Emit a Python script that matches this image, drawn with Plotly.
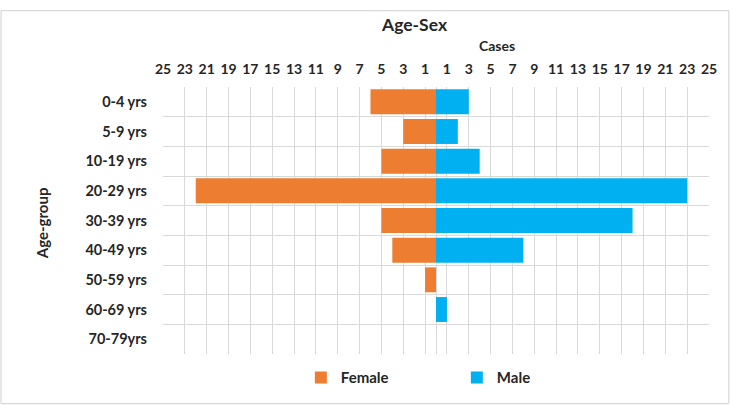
import plotly.graph_objects as go

age_groups = ["0-4 yrs", "5-9 yrs", "10-19 yrs", "20-29 yrs", "30-39 yrs",
              "40-49 yrs", "50-59 yrs", "60-69 yrs", "70-79yrs"]
female = [6, 3, 5, 22, 5, 4, 1, 0, 0]
male = [3, 2, 4, 23, 18, 8, 0, 1, 0]
tick_values = [-25, -23, -21, -19, -17, -15, -13, -11, -9, -7, -5, -3, -1,
               1, 3, 5, 7, 9, 11, 13, 15, 17, 19, 21, 23, 25]
tick_labels = [str(abs(v)) for v in tick_values]

FONT = "Lato"
W, H = 733, 406
L, R, T, B = 163.3, 708.7, 87.3, 354.3
pw, ph = R - L, B - T

def px(x):
    return (x - L) / pw

def py(y):
    return (B - y) / ph

ypos = list(range(len(age_groups)))

fig = go.Figure()
fig.add_trace(go.Bar(y=ypos, x=[-v for v in female], orientation="h",
                     name="Female", marker=dict(color="#ED7D31", line=dict(width=0)),
                     customdata=female, hovertemplate="%{customdata}<extra>Female</extra>"))
fig.add_trace(go.Bar(y=ypos, x=male, orientation="h",
                     name="Male", marker=dict(color="#00B0F0", line=dict(width=0)),
                     hovertemplate="%{x}<extra>Male</extra>"))

grid = "#D9D9D9"
fig.update_layout(
    width=W, height=H,
    margin=dict(l=L, r=W - R, t=T, b=H - B, pad=0),
    paper_bgcolor="white", plot_bgcolor="white",
    barmode="relative", bargap=0.16,
    font=dict(family=FONT, color="#262626"),
    xaxis=dict(range=[-25, 25], side="top", tickvals=tick_values, ticktext=tick_labels,
               showgrid=True, gridcolor=grid, gridwidth=1,
               zeroline=True, zerolinecolor=grid, zerolinewidth=1,
               showline=False, ticks="", ticklabelstandoff=9,
               tickfont=dict(family=FONT, size=14, weight="bold", color="#262626"),
               fixedrange=True),
    yaxis=dict(range=[8.5, -0.5], tickvals=ypos, ticktext=age_groups,
               showgrid=False, zeroline=False, showline=False, ticks="",
               ticklabelstandoff=15,
               tickfont=dict(family=FONT, size=14.5, weight="bold", color="#262626"),
               minor=dict(tickvals=[i - 0.5 for i in range(len(age_groups) + 1)],
                          showgrid=True, gridcolor=grid, gridwidth=1, ticks=""),
               fixedrange=True),
    legend=dict(orientation="h", x=px(301), y=py(378), xanchor="left", yanchor="middle",
                itemwidth=30, entrywidth=111,
                font=dict(family=FONT, size=15, weight="bold", color="#262626"),
                itemclick=False, itemdoubleclick=False, traceorder="normal"),
    showlegend=True,
    annotations=[
        dict(text="<b>Age-Sex</b>", x=px(415), y=py(25), xref="paper", yref="paper",
             showarrow=False, font=dict(family=FONT, size=17.5, color="#262626"),
             xanchor="center", yanchor="middle"),
        dict(text="<b>Cases</b>", x=px(497), y=py(46), xref="paper", yref="paper",
             showarrow=False, font=dict(family=FONT, size=14, color="#262626"),
             xanchor="center", yanchor="middle"),
        dict(text="<b>Age-group</b>", x=px(42), y=py(224), xref="paper", yref="paper",
             showarrow=False, textangle=-90, font=dict(family=FONT, size=15, color="#262626"),
             xanchor="center", yanchor="middle"),
    ],
    shapes=[dict(type="rect", xref="paper", yref="paper",
                 x0=px(1.5), x1=px(728.5), y0=py(404), y1=py(11),
                 line=dict(color="#D0D0D0", width=1), fillcolor="rgba(0,0,0,0)", layer="below")],
)

fig.write_html("out.html", config={"displayModeBar": False},
               post_script="document.body.style.margin='0';document.body.style.overflow='hidden';")
